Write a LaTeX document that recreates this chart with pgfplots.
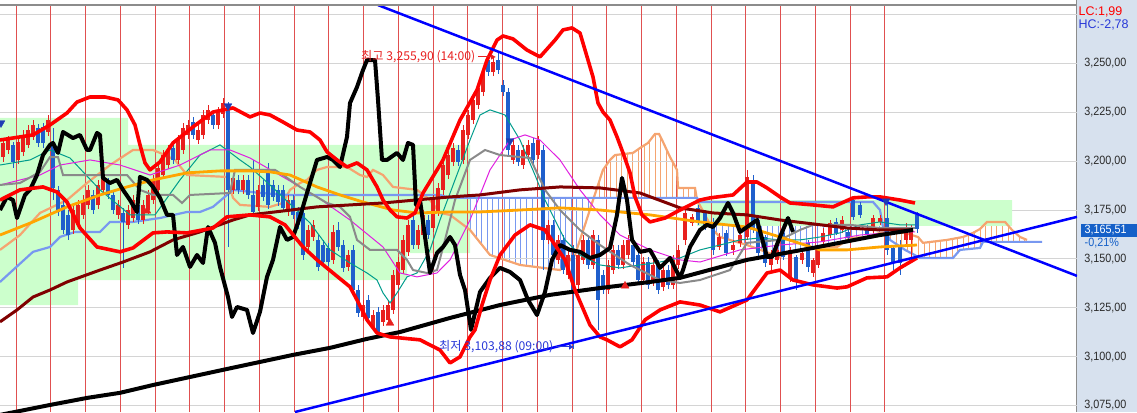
\documentclass[border=0pt]{standalone}
\usepackage{pgfplots}
\pgfplotsset{compat=1.18}
\usepackage{pgfplotstable}
\usepgfplotslibrary{fillbetween}
\usetikzlibrary{patterns.meta,arrows.meta}
\usepackage{fontspec}
\setmainfont{Liberation Sans}
\newfontfamily\axfont[FakeStretch=0.9]{Liberation Sans}
\newfontfamily\kr{Noto Sans CJK KR}
\definecolor{gridred}{HTML}{E05050}
\definecolor{gridgray}{HTML}{D4D4D4}
\definecolor{boxgreen}{HTML}{CCFFCC}
\definecolor{candred}{HTML}{E8201E}
\definecolor{candblue}{HTML}{1F5FCC}
\definecolor{bbred}{HTML}{FF0000}
\definecolor{maroonc}{HTML}{800000}
\definecolor{mao}{HTML}{FFA500}
\definecolor{spanAc}{HTML}{F5A470}
\definecolor{spanBc}{HTML}{7898F0}
\definecolor{tealc}{HTML}{009C8C}
\definecolor{magc}{HTML}{E020E0}
\definecolor{grayc}{HTML}{8A8A8A}
\definecolor{trend}{HTML}{0000FF}
\definecolor{panel}{HTML}{D7E1EE}
\definecolor{pricebox}{HTML}{1560C8}
\definecolor{tickgray}{HTML}{2A2A2A}
\definecolor{axgray}{HTML}{8C8C8C}
\definecolor{labred}{HTML}{E82020}
\definecolor{labblue}{HTML}{2838D8}
\definecolor{arrowblue}{HTML}{1E3CB4}

\pgfplotstableread{
x o h l c
3 3202.1 3211.8 3199.6 3209.3
8 3205.7 3212.9 3203.7 3210.8
18 3200.6 3211.8 3198.6 3209.8
23 3204.7 3215.9 3202.6 3213.4
28 3208.3 3218.5 3206.7 3215.9
33 3212.4 3221.0 3210.8 3218.5
48 3214.9 3223.6 3212.9 3221.0
73 3164.8 3177.6 3162.8 3175.0
78 3167.4 3180.1 3165.8 3177.6
83 3172.5 3182.7 3170.4 3180.1
88 3177.6 3187.8 3175.5 3185.3
98 3177.6 3190.4 3175.5 3187.8
103 3185.3 3194.5 3183.2 3191.4
118 3172.5 3180.1 3170.4 3177.6
128 3167.4 3177.6 3165.3 3175.0
133 3170.9 3182.7 3168.9 3180.1
143 3169.9 3180.1 3167.9 3177.6
148 3175.0 3185.3 3173.0 3182.7
153 3180.1 3192.9 3178.1 3190.4
158 3185.3 3199.1 3183.2 3196.5
163 3192.9 3205.7 3190.9 3203.1
168 3198.0 3208.3 3196.0 3205.7
178 3200.6 3213.4 3198.6 3210.8
183 3205.7 3219.5 3203.7 3217.0
188 3213.4 3221.0 3211.3 3218.5
198 3210.8 3218.5 3208.8 3215.9
203 3213.4 3226.2 3211.3 3223.6
208 3221.0 3228.7 3219.0 3226.2
218 3218.5 3227.7 3216.4 3225.1
223 3224.1 3232.3 3222.1 3229.7
233 3185.3 3194.0 3183.2 3191.4
243 3185.3 3192.9 3183.2 3190.4
258 3176.6 3187.8 3174.5 3185.3
288 3174.0 3182.7 3172.0 3180.1
308 3156.1 3167.4 3154.1 3164.8
313 3161.2 3169.9 3159.2 3167.4
333 3149.5 3167.4 3147.4 3163.8
348 3145.9 3154.6 3143.8 3152.0
363 3120.3 3129.0 3118.3 3126.4
373 3115.2 3123.9 3113.2 3121.3
383 3117.8 3126.4 3115.7 3123.9
388 3118.8 3129.0 3116.7 3126.4
393 3123.9 3144.3 3121.9 3141.8
398 3136.7 3151.0 3134.6 3148.4
403 3144.3 3162.2 3142.3 3159.7
408 3153.6 3169.9 3151.5 3167.4
418 3157.1 3167.4 3155.1 3164.8
423 3162.2 3175.0 3160.2 3172.5
433 3165.8 3182.7 3163.8 3180.1
438 3174.0 3188.8 3172.0 3186.3
443 3185.3 3202.1 3182.7 3198.0
448 3192.9 3205.7 3190.9 3203.1
453 3199.6 3209.3 3197.5 3206.7
463 3200.6 3218.5 3198.6 3215.9
468 3213.4 3226.2 3211.3 3223.6
473 3221.0 3233.8 3219.0 3231.3
478 3228.7 3240.0 3226.7 3237.4
483 3235.4 3247.6 3233.3 3245.6
493 3245.6 3252.7 3243.5 3250.7
513 3200.6 3210.8 3198.6 3208.3
523 3198.0 3208.3 3196.0 3205.7
528 3203.1 3210.8 3201.1 3208.3
538 3203.1 3212.9 3201.1 3210.8
548 3159.7 3169.9 3157.6 3167.4
558 3149.5 3162.2 3147.4 3159.7
568 3141.8 3154.6 3139.8 3152.0
578 3136.7 3154.6 3134.6 3152.0
583 3149.5 3162.2 3147.4 3159.7
593 3146.9 3164.8 3144.9 3162.2
608 3134.1 3149.5 3132.1 3146.9
613 3144.3 3157.1 3142.3 3154.6
623 3146.9 3159.7 3144.9 3157.1
628 3152.0 3162.2 3150.0 3159.7
643 3139.2 3151.0 3137.2 3148.4
653 3138.2 3149.5 3136.2 3146.9
663 3135.7 3146.9 3133.6 3144.3
673 3136.7 3152.0 3134.6 3149.5
678 3146.9 3157.1 3144.9 3154.6
685 3159.7 3176.1 3157.1 3173.5
692 3168.4 3173.0 3166.9 3171.5
719 3156.1 3163.3 3154.6 3161.2
733 3154.6 3159.7 3152.0 3157.1
740 3158.2 3165.8 3156.1 3162.2
747 3161.2 3195.5 3159.7 3191.9
771 3146.9 3154.6 3144.3 3152.0
777 3149.5 3156.6 3147.4 3154.6
790 3140.8 3156.1 3138.2 3154.6
802 3149.5 3155.1 3147.4 3153.0
813 3142.8 3150.5 3140.8 3149.5
818 3146.9 3156.6 3145.4 3154.6
823 3158.7 3165.8 3157.1 3163.3
830 3162.2 3169.9 3160.7 3168.4
842 3164.8 3172.0 3163.3 3169.9
873 3164.8 3172.5 3163.3 3170.9
880 3168.9 3172.5 3167.4 3170.9
906 3159.7 3168.4 3157.6 3166.3
911 3159.7 3167.4 3148.4 3165.8
}\redc

\pgfplotstableread{
x o h l c
13 3208.3 3209.8 3196.5 3199.6
38 3217.0 3219.0 3207.2 3209.3
43 3217.5 3219.5 3206.7 3209.3
53 3209.3 3217.0 3180.1 3186.3
58 3185.3 3187.3 3172.0 3174.0
63 3177.6 3180.1 3162.8 3164.8
68 3172.5 3175.0 3159.7 3162.2
93 3182.7 3185.3 3173.0 3175.0
108 3188.8 3191.4 3180.7 3182.7
113 3182.7 3185.3 3173.0 3175.0
123 3173.5 3176.1 3145.4 3168.9
138 3177.6 3180.1 3167.9 3169.9
173 3206.7 3209.3 3198.6 3200.6
193 3220.0 3222.6 3211.3 3213.4
213 3223.6 3226.2 3216.4 3218.5
228 3227.2 3230.2 3156.1 3185.3
238 3190.4 3192.9 3183.2 3185.3
248 3190.4 3192.9 3180.7 3182.7
253 3182.7 3200.6 3172.0 3174.0
263 3187.8 3190.4 3179.6 3181.7
268 3195.5 3199.1 3175.5 3177.6
273 3187.8 3190.4 3179.6 3181.7
278 3185.3 3187.8 3177.1 3179.1
283 3185.3 3187.8 3174.0 3176.1
293 3180.1 3182.7 3170.4 3172.5
298 3174.0 3176.6 3165.3 3167.4
303 3173.5 3176.1 3149.5 3152.0
318 3159.7 3162.2 3143.8 3145.9
323 3157.1 3159.7 3146.4 3148.4
328 3155.6 3158.2 3146.4 3148.4
338 3164.8 3168.9 3154.1 3156.1
343 3157.1 3159.7 3143.3 3145.4
353 3154.6 3157.1 3132.1 3134.1
358 3134.1 3136.7 3120.3 3122.4
368 3129.0 3131.6 3117.8 3119.8
378 3122.9 3125.4 3110.6 3112.6
413 3169.9 3172.5 3155.1 3157.1
428 3169.9 3172.5 3160.2 3162.2
458 3205.7 3208.3 3197.5 3199.6
488 3251.7 3253.3 3243.5 3245.6
498 3251.7 3255.9 3244.6 3246.6
503 3238.9 3241.5 3233.3 3235.4
508 3235.4 3237.4 3203.1 3205.7
518 3205.7 3208.3 3197.5 3199.6
533 3209.3 3211.8 3198.6 3200.6
543 3205.7 3208.3 3144.3 3159.7
553 3167.4 3169.9 3150.0 3152.0
563 3159.7 3162.2 3142.3 3144.3
573 3152.0 3157.1 3103.9 3134.1
588 3159.7 3162.2 3144.9 3146.9
598 3159.7 3162.2 3113.7 3129.0
603 3141.8 3144.3 3132.1 3134.1
618 3154.6 3157.1 3144.9 3146.9
633 3157.1 3159.7 3146.4 3148.4
638 3152.0 3154.6 3137.2 3139.2
648 3148.4 3151.0 3134.6 3136.7
658 3146.9 3149.5 3132.1 3134.1
668 3144.3 3146.9 3134.6 3136.7
698 3176.1 3177.6 3167.4 3168.9
705 3173.5 3175.0 3164.8 3166.3
713 3168.9 3170.9 3152.0 3154.6
726 3163.3 3164.8 3151.5 3153.0
753 3190.4 3192.9 3163.3 3165.8
758 3169.9 3170.9 3151.0 3153.0
765 3161.2 3162.2 3145.9 3147.9
783 3163.3 3164.8 3149.5 3151.0
796 3151.0 3152.0 3134.1 3138.2
808 3158.2 3159.7 3143.3 3145.9
836 3168.9 3170.9 3162.2 3163.3
848 3163.8 3165.3 3159.2 3160.7
853 3180.1 3181.7 3169.9 3171.5
860 3177.6 3179.1 3171.0 3172.5
867 3165.8 3167.4 3160.7 3162.2
887 3170.9 3178.6 3152.0 3154.6
893 3155.6 3157.1 3144.3 3147.9
900 3156.1 3159.7 3141.8 3147.9
917 3172.5 3174.0 3163.3 3165.51
}\bluec

\pgfplotstableread{
x y
0 3154.6
20 3162.2
40 3173.5
67 3180.1
87 3188.8
110 3198.0
133 3205.7
153 3205.7
165 3203.1
175 3200.6
187 3192.9
227 3191.9
233 3181.2
240 3177.6
270 3176.6
283 3178.6
290 3185.3
300 3188.8
307 3190.4
317 3195.5
327 3197.0
347 3197.0
360 3192.9
367 3191.9
373 3195.5
383 3192.9
393 3186.8
417 3185.3
430 3180.1
440 3173.5
450 3172.5
470 3164.8
490 3152.0
520 3146.9
560 3144.3
575 3152.0
585 3167.4
593 3180.1
603 3195.5
610 3200.6
615 3203.1
633 3204.2
640 3206.7
648 3209.3
655 3213.9
659 3213.9
663 3209.8
670 3202.1
677 3195.5
678 3186.3
695 3186.3
697 3180.1
713 3164.8
720 3161.2
747 3157.1
780 3151.0
790 3153.6
820 3156.1
837 3156.1
850 3160.7
867 3161.2
880 3163.3
905 3163.3
918 3161.2
923 3158.2
947 3159.7
963 3161.2
973 3163.3
980 3165.3
987 3168.9
1005 3168.9
1012 3164.8
1020 3161.2
1027 3159.7
}\spanA

\pgfplotstableread{
x y
0 3138.2
13 3144.3
33 3153.6
50 3156.1
60 3161.2
75 3163.8
100 3163.8
110 3168.9
133 3168.9
160 3170.9
187 3174.0
200 3174.0
213 3176.6
227 3182.7
233 3185.3
260 3183.7
290 3182.7
440 3182.7
450 3181.2
697 3181.2
700 3179.1
873 3179.1
880 3175.0
883 3166.3
890 3159.7
905 3154.6
920 3150.5
953 3150.5
960 3154.6
980 3155.6
983 3158.7
1042 3158.7
}\spanB

\begin{document}
\begin{tikzpicture}
\fill[panel] (1077pt,0pt) rectangle (1137pt,412pt);
\begin{axis}[
  at={(0pt,0pt)}, anchor=south west,
  width=1077pt, height=412pt, scale only axis,
  xmin=0, xmax=1077, ymin=3071.7, ymax=3282.4,
  axis x line=none, axis y line*=right,
  y axis line style={axgray, line width=1.3pt},
  ytick={3075,3100,3125,3150,3175,3200,3225,3250,3275},
  yticklabels={{3,075,00},{3,100,00},{3,125,00},{3,150,00},{3,175,00},{3,200,00},{3,225,00},{3,250,00},{}},
  minor y tick num=2,
  tick align=outside, major tick length=6pt, minor tick length=3pt,
  every tick/.style={axgray, line width=1pt},
  yticklabel style={font=\axfont\fontsize{12}{13}\selectfont, text=tickgray, inner sep=1.2pt},
  clip=true,
]
% horizontal grid
\foreach \v in {3075,3100,3125,3150,3175,3200,3225,3250,3275} {
  \edef\tmp{\noexpand\draw[gridgray, line width=1pt] (axis cs:0,\v) -- (axis cs:1077,\v);}\tmp
}
% green boxes
\addplot[fill=boxgreen, draw=none] coordinates {(0,3208.3) (128,3208.3) (128,3222.1) (0,3222.1) (0,3208.3)};
\addplot[fill=boxgreen, draw=none] coordinates {(0,3153.0) (470,3153.0) (470,3208.3) (0,3208.3) (0,3153.0)};
\addplot[fill=boxgreen, draw=none] coordinates {(0,3139.2) (407,3139.2) (407,3153.0) (0,3153.0) (0,3139.2)};
\addplot[fill=boxgreen, draw=none] coordinates {(0,3126.4) (78,3126.4) (78,3139.2) (0,3139.2) (0,3126.4)};
\addplot[fill=boxgreen, draw=none] coordinates {(697,3166.9) (1012,3166.9) (1012,3180.1) (697,3180.1) (697,3166.9)};
% red vertical grid
\foreach \k in {0,...,25} {
  \pgfmathsetmacro{\xx}{16+34.75*\k}
  \edef\tmp{\noexpand\draw[gridred, line width=1pt] (axis cs:\xx,3071.7) -- (axis cs:\xx,3279.8);}\tmp
}
% cloud
\addplot[draw=none, name path=A] table {\spanA};
\addplot[draw=none, name path=B] table {\spanB};
\addplot[pattern={Lines[angle=90,distance=5.6pt,line width=1pt]}, pattern color=spanAc] fill between[of=A and B, soft clip={domain=0:230}];
\addplot[pattern={Lines[angle=90,distance=5.6pt,line width=1pt]}, pattern color=spanBc] fill between[of=A and B, soft clip={domain=230:288}];
\addplot[pattern={Lines[angle=90,distance=5.6pt,line width=1pt]}, pattern color=spanAc] fill between[of=A and B, soft clip={domain=288:423}];
\addplot[pattern={Lines[angle=90,distance=5.6pt,line width=1pt]}, pattern color=spanBc] fill between[of=A and B, soft clip={domain=423:594}];
\addplot[pattern={Lines[angle=90,distance=5.6pt,line width=1pt]}, pattern color=spanAc] fill between[of=A and B, soft clip={domain=594:697}];
\addplot[pattern={Lines[angle=90,distance=5.6pt,line width=1pt]}, pattern color=spanBc] fill between[of=A and B, soft clip={domain=697:886}];
\addplot[pattern={Lines[angle=90,distance=5.6pt,line width=1pt]}, pattern color=spanAc] fill between[of=A and B, soft clip={domain=886:1027}];
\addplot[spanAc, line width=2.2pt] table {\spanA};
\addplot[spanBc, line width=2.2pt] table {\spanB};
% candles
\addplot[draw=none, mark=none, error bars/.cd, y dir=plus, y explicit, error mark=none, error bar style={draw=candred, line width=1pt}] table[x=x, y=l, y error expr=\thisrow{h}-\thisrow{l}] {\redc};
\addplot[draw=none, mark=none, error bars/.cd, y dir=plus, y explicit, error mark=none, error bar style={draw=candred, line width=3.3pt}] table[x=x, y=o, y error expr=\thisrow{c}-\thisrow{o}] {\redc};
\addplot[draw=none, mark=none, error bars/.cd, y dir=plus, y explicit, error mark=none, error bar style={draw=candblue, line width=1pt}] table[x=x, y=l, y error expr=\thisrow{h}-\thisrow{l}] {\bluec};
\addplot[draw=none, mark=none, error bars/.cd, y dir=plus, y explicit, error mark=none, error bar style={draw=candblue, line width=3.3pt}] table[x=x, y=c, y error expr=\thisrow{o}-\thisrow{c}] {\bluec};
% thin lines
\addplot[tealc, line width=1pt] coordinates {(0,3198.0) (30,3200.6) (50,3205.7) (70,3201.6) (100,3185.3) (130,3172.5) (155,3172.5) (180,3190.4) (200,3203.1) (220,3208.3) (240,3200.6) (250,3197.0) (270,3187.8) (310,3168.4) (330,3154.6) (350,3147.9) (367,3142.8) (377,3139.2) (383,3132.6) (390,3127.5) (397,3132.6) (407,3140.8) (417,3142.8) (430,3154.6) (440,3169.9) (455,3190.4) (470,3210.8) (480,3223.6) (490,3226.2) (505,3223.6) (520,3210.8) (535,3192.9) (545,3180.1) (555,3169.9) (565,3159.7) (580,3152.0) (600,3146.9) (620,3145.4) (640,3146.9) (660,3148.4) (680,3150.5) (700,3154.6) (720,3157.1) (740,3159.7) (760,3160.7) (780,3159.7) (800,3159.7) (820,3161.2) (840,3163.3) (860,3167.4) (880,3168.9) (900,3167.4) (915,3167.4)};
\addplot[magc, line width=1pt] coordinates {(0,3187.8) (40,3192.9) (60,3198.0) (90,3200.6) (120,3198.0) (150,3192.9) (180,3198.0) (210,3205.7) (230,3205.7) (250,3201.6) (283,3191.9) (317,3181.7) (350,3169.9) (383,3156.1) (400,3142.8) (417,3140.8) (437,3142.8) (450,3149.5) (470,3169.9) (490,3195.5) (510,3210.8) (525,3213.4) (540,3210.8) (560,3200.6) (580,3185.3) (600,3172.5) (620,3162.2) (650,3154.6) (680,3149.5) (700,3148.4) (740,3154.6) (780,3157.1) (820,3158.7) (860,3162.2) (900,3163.8) (915,3163.8)};
\addplot[grayc, line width=2pt] coordinates {(0,3187.8) (20,3188.8) (40,3194.5) (50,3202.1) (58,3202.1) (63,3192.9) (127,3192.9) (140,3185.3) (153,3182.7) (173,3182.7) (182,3178.6) (190,3182.7) (230,3183.7) (235,3195.5) (275,3195.5) (283,3192.9) (300,3186.8) (327,3178.6) (340,3176.6) (350,3171.5) (357,3159.7) (370,3154.6) (397,3154.6) (407,3149.5) (413,3144.3) (427,3142.8) (437,3144.3) (445,3159.7) (455,3180.1) (470,3200.6) (485,3205.7) (500,3203.1) (530,3201.6) (545,3185.3) (560,3175.0) (580,3164.8) (600,3157.1) (630,3146.9) (660,3139.2) (680,3137.7) (700,3139.2) (730,3144.3) (747,3158.2) (780,3159.7) (800,3164.8) (813,3167.4) (850,3167.4) (880,3165.8) (915,3165.8)};
% moving averages
\addplot[mao, line width=2.8pt] coordinates {(0,3162.2) (33,3168.9) (67,3176.6) (100,3182.7) (127,3186.8) (153,3190.4) (187,3194.0) (220,3195.0) (250,3195.0) (270,3194.5) (290,3192.9) (317,3186.8) (340,3182.7) (363,3179.1) (393,3175.0) (417,3173.5) (450,3174.0) (480,3174.0) (520,3175.0) (560,3176.1) (600,3175.0) (650,3172.5) (700,3168.9) (747,3166.3) (780,3161.2) (820,3154.6) (847,3154.6) (880,3156.1) (917,3157.1)};
\addplot[maroonc, line width=3pt] coordinates {(0,3117.8) (17,3123.9) (33,3130.5) (50,3134.1) (67,3138.2) (100,3144.3) (123,3148.4) (150,3153.6) (173,3159.7) (200,3163.8) (233,3169.9) (250,3172.5) (283,3174.5) (317,3176.6) (383,3178.6) (450,3181.7) (480,3182.7) (520,3185.3) (560,3186.8) (600,3186.3) (640,3183.7) (680,3176.1) (713,3173.5) (747,3172.5) (780,3169.9) (813,3167.9) (847,3165.8) (880,3164.8) (913,3164.8)};
\addplot[black, line width=4pt] coordinates {(0,3070.2) (50,3075.3) (87,3078.9) (120,3081.5) (153,3085.5) (190,3089.6) (227,3093.7) (260,3097.3) (293,3100.9) (330,3104.5) (367,3109.1) (400,3112.6) (450,3119.8) (500,3126.4) (550,3131.6) (600,3135.1) (650,3138.2) (680,3140.3) (747,3149.5) (813,3155.6) (880,3162.2) (913,3164.8)};
% lagging span (thick black)
\addplot[black, line width=4pt, line join=round] coordinates {(0,3175.0) (7,3181.7) (13,3180.1) (17,3170.9) (25,3182.7) (30,3185.3) (37,3192.9) (43,3203.1) (50,3208.3) (53,3209.3) (58,3204.2) (63,3214.9) (73,3211.8) (80,3213.4) (87,3205.7) (90,3205.7) (97,3214.4) (100,3213.4) (103,3191.4) (110,3188.8) (117,3190.4) (123,3185.3) (130,3180.1) (137,3174.0) (140,3191.9) (147,3190.4) (153,3186.8) (160,3181.2) (167,3172.5) (173,3172.5) (177,3152.0) (183,3156.1) (190,3145.9) (197,3152.0) (203,3147.9) (208,3166.3) (215,3158.2) (220,3145.9) (228,3130.5) (232,3120.3) (237,3125.4) (247,3123.9) (253,3112.1) (260,3122.9) (267,3140.8) (273,3149.5) (280,3166.3) (287,3159.7) (293,3161.2) (300,3171.5) (307,3183.7) (317,3200.6) (327,3202.1) (333,3200.6) (340,3197.0) (347,3212.4) (350,3229.7) (357,3237.9) (363,3246.6) (367,3251.7) (375,3251.7) (378,3231.3) (382,3200.6) (387,3200.6) (397,3204.2) (403,3200.6) (408,3209.3) (413,3208.3) (416,3177.6) (420,3180.1) (430,3142.8) (437,3153.0) (443,3156.1) (450,3161.2) (455,3157.1) (460,3141.8) (465,3134.1) (471,3113.7) (480,3133.1) (490,3140.3) (500,3145.4) (510,3143.3) (520,3139.2) (528,3129.0) (537,3121.3) (545,3133.1) (552,3149.5) (560,3157.1) (570,3154.6) (580,3153.6) (590,3150.5) (600,3152.0) (610,3155.6) (617,3172.5) (622,3191.4) (627,3180.1) (632,3159.7) (640,3153.6) (650,3154.6) (660,3145.4) (670,3150.5) (680,3140.3) (683,3144.3) (690,3156.1) (700,3164.8) (707,3167.4) (713,3166.3) (720,3170.9) (728,3178.6) (733,3173.5) (740,3163.8) (747,3166.3) (757,3169.9) (767,3151.0) (772,3151.0) (780,3161.2) (788,3170.9) (793,3163.8)};
% bollinger bands
\addplot[bbred, line width=3.6pt, line join=round] coordinates {(0,3210.8) (33,3213.4) (50,3218.5) (67,3224.6) (77,3230.2) (90,3232.8) (105,3232.8) (118,3231.3) (127,3226.2) (135,3218.5) (140,3208.3) (145,3199.1) (150,3195.5) (160,3199.6) (173,3209.3) (193,3217.5) (213,3225.1) (233,3227.2) (250,3222.6) (260,3224.6) (270,3223.6) (283,3220.0) (297,3215.9) (310,3214.9) (320,3210.8) (327,3204.7) (337,3200.6) (347,3197.0) (357,3199.1) (367,3195.5) (377,3186.8) (383,3180.1) (390,3175.0) (397,3171.5) (407,3170.9) (415,3173.5) (423,3183.7) (437,3195.5) (443,3200.6) (460,3221.0) (477,3236.4) (487,3251.7) (497,3261.9) (503,3264.0) (513,3262.5) (527,3256.8) (540,3253.3) (555,3261.9) (563,3267.1) (572,3268.1) (580,3265.5) (588,3251.7) (593,3243.0) (598,3229.7) (603,3225.1) (610,3221.0) (617,3212.4) (623,3204.2) (630,3194.0) (635,3181.7) (642,3172.5) (650,3168.9) (665,3170.9) (680,3175.0) (700,3180.1) (710,3181.2) (733,3182.7) (747,3189.3) (757,3189.3) (767,3186.3) (780,3181.7) (790,3178.6) (813,3177.6) (833,3176.6) (853,3181.2) (867,3181.7) (880,3181.7) (900,3180.1) (915,3178.6)};
\addplot[bbred, line width=3.6pt, line join=round] coordinates {(0,3180.1) (20,3185.3) (43,3186.8) (57,3184.2) (67,3179.1) (80,3165.8) (97,3156.1) (120,3153.6) (133,3155.6) (153,3163.3) (167,3163.8) (187,3163.3) (213,3165.8) (227,3171.5) (250,3172.5) (270,3171.5) (285,3167.4) (303,3156.1) (317,3149.5) (333,3142.8) (350,3135.7) (357,3129.0) (367,3118.8) (377,3112.1) (390,3110.1) (420,3108.6) (440,3103.4) (450,3096.8) (460,3099.9) (470,3110.1) (475,3113.7) (482,3126.4) (490,3139.2) (500,3152.0) (515,3162.2) (530,3167.4) (545,3164.8) (555,3157.1) (565,3149.5) (575,3134.1) (590,3116.2) (600,3110.1) (607,3108.6) (620,3105.0) (632,3108.6) (645,3118.8) (660,3123.9) (680,3128.0) (700,3126.4) (720,3122.9) (747,3129.0) (767,3142.8) (780,3144.3) (793,3139.2) (813,3136.7) (837,3135.1) (847,3135.7) (867,3140.3) (887,3140.8) (900,3145.4) (910,3148.4) (917,3150.5)};
% trend lines
\addplot[trend, line width=2.5pt] coordinates {(378,3279.8) (1077,3141.3)};
\addplot[trend, line width=2.5pt] coordinates {(295,3071.7) (1077,3171.5)};
% signal arrows
\addplot[only marks, mark=triangle*, mark size=4.5pt, mark options={rotate=180, fill=arrowblue, draw=arrowblue}] coordinates {(1,3219.5) (228,3228.2) (510,3210.3) (886,3179.6)};
\addplot[only marks, mark=triangle*, mark size=4.5pt, mark options={fill=candred, draw=candred}] coordinates {(147,3174.5) (390,3117.2) (625,3136.2)};
% labels
\node[anchor=west, text=labred, inner sep=0pt, font=\kr\fontsize{12.2}{13}\selectfont] at (axis cs:361,3253.3) {최고 3,255,90 (14:00)};
\draw[labred, line width=1.2pt, -{Latex[length=5pt,width=6pt]}] (axis cs:478,3253.3) -- (axis cs:496,3253.3);
\node[anchor=west, text=labblue, inner sep=0pt, font=\kr\fontsize{12.2}{13}\selectfont] at (axis cs:439,3105.0) {최저 3,103,88 (09:00)};
\draw[labblue, line width=1.2pt, -{Latex[length=5pt,width=6pt]}] (axis cs:556,3105.0) -- (axis cs:574,3105.0);
\end{axis}
% top frame line
\draw[axgray, line width=1.3pt] (0pt,407pt) -- (1077pt,407pt);
% right panel texts
\node[anchor=west, inner sep=0.6pt, text=red, font=\fontsize{12.5}{13}\selectfont] at (1077.8pt,400pt) {LC:1,99};
\node[anchor=west, inner sep=0.6pt, text=labblue, font=\fontsize{12.5}{13}\selectfont] at (1077.8pt,387.5pt) {HC:-2,78};
\fill[pricebox] (1081pt,175pt) rectangle (1137pt,188pt);
\node[anchor=west, inner sep=0pt, text=white, font=\axfont\fontsize{12}{13}\selectfont] at (1084.5pt,181.5pt) {3,165,51};
\node[anchor=west, inner sep=0pt, text=pricebox, font=\axfont\fontsize{12}{13}\selectfont] at (1084.5pt,169pt) {-0,21\%};
\pgfresetboundingbox
\useasboundingbox (0pt,0pt) rectangle (1137pt,412pt);
\end{tikzpicture}
\end{document}
